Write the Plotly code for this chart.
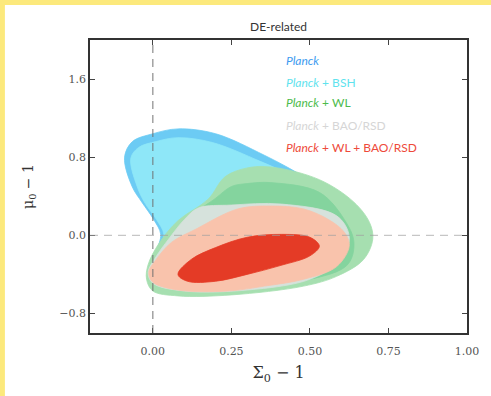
import plotly.graph_objects as go

# ---- data: contour boundaries (Sigma0-1, mu0-1) ----
planck_95_x = [-0.09, -0.065, 0.0, 0.08, 0.20, 0.355, 0.46, 0.56, 0.62, 0.655, 0.64, 0.57, 0.44, 0.26, 0.08, 0.005, -0.005, 0.01, 0.025, 0.003, -0.035, -0.066]
planck_95_y = [0.80, 0.96, 1.04, 1.09, 1.04, 0.82, 0.64, 0.44, 0.24, 0.03, -0.18, -0.38, -0.52, -0.59, -0.60, -0.52, -0.30, -0.17, 0.01, 0.16, 0.34, 0.50]

bsh_95_x = [-0.07, -0.045, 0.01, 0.08, 0.19, 0.34, 0.45, 0.55, 0.61, 0.64, 0.625, 0.56, 0.43, 0.26, 0.09, 0.015, 0.005, 0.02, 0.035, 0.012, -0.025, -0.05]
bsh_95_y = [0.79, 0.90, 0.96, 1.00, 0.95, 0.76, 0.60, 0.42, 0.23, 0.03, -0.17, -0.36, -0.50, -0.57, -0.58, -0.50, -0.30, -0.16, 0.01, 0.16, 0.33, 0.50]

wl_95_x = [0.176, 0.23, 0.30, 0.375, 0.53, 0.64, 0.69, 0.70, 0.67, 0.585, 0.48, 0.25, 0.08, 0.0, -0.02, -0.015, 0.02, 0.08]
wl_95_y = [0.37, 0.60, 0.69, 0.70, 0.57, 0.34, 0.13, -0.04, -0.25, -0.42, -0.52, -0.61, -0.62, -0.57, -0.45, -0.30, -0.08, 0.15]

wl_68_x = [0.20, 0.25, 0.30, 0.375, 0.53, 0.61, 0.64, 0.62, 0.50, 0.30, 0.15, 0.10, 0.13]
wl_68_y = [0.38, 0.50, 0.53, 0.54, 0.44, 0.16, -0.07, -0.30, -0.45, -0.50, -0.40, -0.10, 0.20]

bao_95_x = [0.10, 0.145, 0.25, 0.41, 0.585, 0.625, 0.60, 0.50, 0.30, 0.10, 0.0, -0.015, 0.01, 0.05]
bao_95_y = [0.16, 0.28, 0.31, 0.32, 0.20, -0.01, -0.25, -0.45, -0.56, -0.57, -0.49, -0.38, -0.22, -0.04]

all_95_x = [0.135, 0.27, 0.375, 0.48, 0.56, 0.61, 0.625, 0.585, 0.48, 0.355, 0.24, 0.08, 0.0, -0.013, 0.01, 0.06]
all_95_y = [0.06, 0.27, 0.30, 0.27, 0.16, 0.03, -0.11, -0.32, -0.45, -0.52, -0.57, -0.56, -0.48, -0.38, -0.25, -0.07]

all_68_x = [0.08, 0.123, 0.20, 0.30, 0.41, 0.50, 0.53, 0.50, 0.405, 0.30, 0.20, 0.11]
all_68_y = [-0.40, -0.245, -0.125, -0.02, 0.01, -0.02, -0.11, -0.21, -0.31, -0.40, -0.47, -0.47]

legend_labels = ["<i>Planck</i>", "<i>Planck</i> + BSH", "<i>Planck</i> + WL",
                 "<i>Planck</i> + BAO/RSD", "<i>Planck</i> + WL + BAO/RSD"]
legend_colors = ["#3d9bf0", "#5fe3ee", "#4cbb4c", "#d6d6d6", "#ee4a3a"]
legend_y = [1.79, 1.56, 1.36, 1.12, 0.90]

x_ticks = [0.0, 0.25, 0.5, 0.75, 1.0]
x_ticktext = ["0.00", "0.25", "0.50", "0.75", "1.00"]
y_ticks = [-0.8, 0.0, 0.8, 1.6]
y_ticktext = ["\u22120.8", "0.0", "0.8", "1.6"]

fig = go.Figure()

def region(x, y, color, alpha=1.0):
    fig.add_trace(go.Scatter(
        x=x + x[:1], y=y + y[:1], mode="lines", fill="toself",
        line=dict(color=color, width=0.8, shape="spline", smoothing=1.0),
        fillcolor=color, opacity=alpha, hoverinfo="skip", showlegend=False))

region(planck_95_x, planck_95_y, "#6ccbf4")
region(bsh_95_x, bsh_95_y, "#8ee7f8")
region(wl_95_x, wl_95_y, "#a6dfb0")
region(wl_68_x, wl_68_y, "#84d49e")
region(bao_95_x, bao_95_y, "#d6e2dc")
region(all_95_x, all_95_y, "#f9c3ac")
region(all_68_x, all_68_y, "#e43b26")

# dashed reference lines
fig.add_shape(type="line", x0=0, x1=0, y0=-1, y1=2, xref="x", yref="y",
              line=dict(color="rgba(110,110,110,0.8)", width=1.2, dash="8px,6px"))
fig.add_shape(type="line", x0=-0.2, x1=1.0, y0=0, y1=0, xref="x", yref="y",
              line=dict(color="rgba(160,160,160,0.6)", width=1.2, dash="8px,6px"))

# yellow frame: white page area
fig.add_shape(type="rect", xref="paper", yref="paper", x0=-0.2257, x1=1.1,
              y0=-0.3, y1=1.1195, fillcolor="white", line=dict(width=0), layer="below")

for lab, col, yy in zip(legend_labels, legend_colors, legend_y):
    fig.add_annotation(x=0.418, y=yy, xref="x", yref="y", text=lab, showarrow=False,
                       xanchor="left", yanchor="middle",
                       font=dict(family="Lato, sans-serif", size=12, color=col))

fig.add_annotation(x=0.5, y=1.0, xref="paper", yref="paper", yshift=14, text="DE-related",
                   showarrow=False, xanchor="center", yanchor="middle",
                   font=dict(family="Lato, sans-serif", size=12, color="#333"))

axis_common = dict(showgrid=False, zeroline=False, ticks="inside", ticklen=5,
                   tickcolor="#444", showline=True, linecolor="#333", linewidth=1.5,
                   mirror="allticks",
                   tickfont=dict(family="DejaVu Serif", size=11, color="#555"))

fig.update_xaxes(range=[-0.2, 1.0], tickvals=x_ticks, ticktext=x_ticktext,
                 ticklabelstandoff=7,
                 title=dict(text="\u03a3<sub>0</sub> \u2212 1", standoff=10,
                            font=dict(family="DejaVu Serif", size=16, color="#333")),
                 **axis_common)
fig.update_yaxes(range=[-1.0, 2.0], tickvals=y_ticks, ticktext=y_ticktext,
                 title=dict(text="\u03bc<sub>0</sub> \u2212 1", standoff=22,
                            font=dict(family="DejaVu Serif", size=14, color="#333")),
                 **axis_common)

fig.update_layout(width=491, height=396, margin=dict(l=90, r=20, t=40, b=63),
                  paper_bgcolor="#fce97c", plot_bgcolor="white")

fig.write_html("out.html")
